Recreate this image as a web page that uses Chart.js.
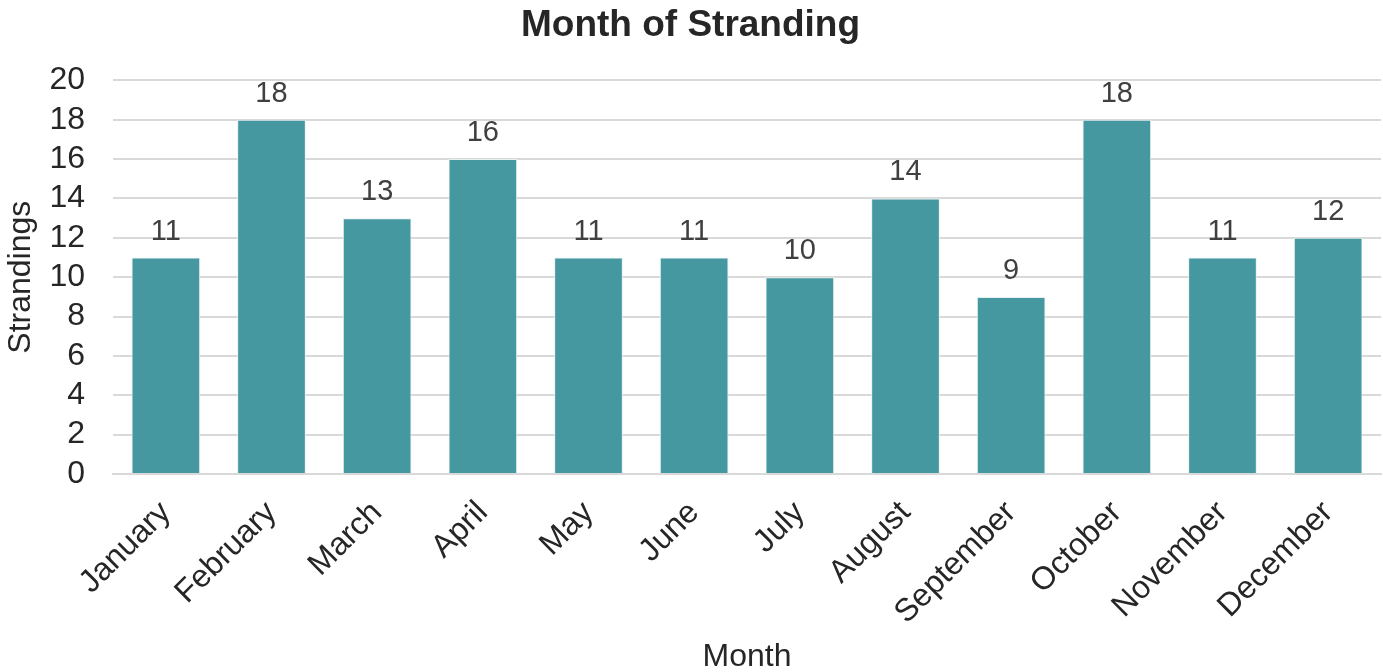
<!DOCTYPE html>
<html>
<head>
<meta charset="utf-8">
<script src="https://cdn.jsdelivr.net/npm/chart.js@4/dist/chart.umd.min.js"></script>
<style>
html,body{margin:0;padding:0;background:#fff;}
#wrap{width:1383px;height:672px;}
</style>
</head>
<body>
<div id="wrap"><canvas id="c" width="1383" height="672"></canvas></div>
<script>
const months = ["January","February","March","April","May","June","July","August","September","October","November","December"];
const strandings = [11,18,13,16,11,11,10,14,9,18,11,12];
const yTicks = [0,2,4,6,8,10,12,14,16,18,20];

const FONT = "'Liberation Sans', Arial, sans-serif";

const labelPlugin = {
  id: 'barLabels',
  afterDatasetsDraw(chart) {
    const ctx = chart.ctx;
    const meta = chart.getDatasetMeta(0);
    ctx.save();
    ctx.font = "29px " + FONT;
    ctx.fillStyle = "#404040";
    ctx.textAlign = "center";
    ctx.textBaseline = "alphabetic";
    meta.data.forEach((bar, i) => {
      ctx.fillText(String(strandings[i]), bar.x, bar.y - 18);
    });
    ctx.restore();
  }
};

new Chart(document.getElementById('c'), {
  type: 'bar',
  data: {
    labels: months,
    datasets: [{
      data: strandings,
      backgroundColor: '#4597A0',
      borderColor: '#e6f0f1',
      borderWidth: 1,
      categoryPercentage: 1,
      barPercentage: 0.65
    }]
  },
  options: {
    responsive: false,
    animation: false,
    devicePixelRatio: 1,
    layout: { padding: { left: 0, right: 2, top: 0, bottom: 0 } },
    plugins: {
      legend: { display: false },
      tooltip: { enabled: false },
      title: {
        display: true,
        text: 'Month of Stranding',
        color: '#262626',
        font: { family: FONT, size: 37, weight: 'bold' },
        padding: { top: 4, bottom: 32 }
      }
    },
    scales: {
      x: {
        grid: { display: false, drawTicks: false },
        border: { display: true, color: '#d9d9d9', width: 2 },
        ticks: {
          color: '#262626',
          font: { family: FONT, size: 32 },
          maxRotation: 45, minRotation: 45,
          padding: 20,
          autoSkip: false
        },
        title: {
          display: true,
          text: 'Month',
          color: '#262626',
          font: { family: FONT, size: 32 },
          padding: { top: 0, bottom: -4 }
        },
        afterFit(scale) { scale.height = 198; }
      },
      y: {
        min: 0, max: 20,
        afterBuildTicks(axis) { axis.ticks = yTicks.map(v => ({ value: v })); },
        grid: { color: '#d9d9d9', lineWidth: 2, drawTicks: false },
        border: { display: false },
        ticks: {
          color: '#262626',
          font: { family: FONT, size: 32 },
          padding: 28,
          autoSkip: false
        },
        title: {
          display: true,
          text: 'Strandings',
          color: '#262626',
          font: { family: FONT, size: 32 },
          padding: { top: 2, bottom: 0 }
        },
        afterFit(scale) { scale.width = 113; }
      }
    }
  },
  plugins: [labelPlugin]
});
</script>
</body>
</html>
